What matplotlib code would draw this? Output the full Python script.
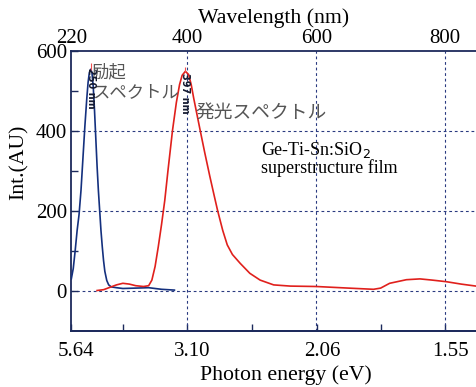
import numpy as np
import matplotlib.pyplot as plt
from matplotlib.transforms import ScaledTranslation

plt.rcParams['font.family'] = ['Liberation Serif', 'DejaVu Serif']

# Excitation spectrum (blue), wavelength [nm] vs intensity [AU]
ex_nm = [220, 223, 226, 229, 232, 235, 238, 241, 244, 246, 248, 250, 252, 254,
         256, 258, 260, 262, 264, 266, 268, 270, 272, 275, 278, 282, 290, 300,
         320, 340, 360, 380]
ex_int = [29, 55, 100, 150, 190, 250, 330, 410, 480, 520, 545, 553, 545, 510,
          450, 380, 310, 250, 200, 150, 110, 75, 48, 25, 14, 9, 7, 5,
          6, 7, 3, 1]

# Emission spectrum (red)
em_nm = [260, 270, 280, 290, 300, 310, 320, 332, 340, 345, 350, 355, 360, 365,
         370, 377, 383, 388, 392, 397, 402, 406, 410, 415, 420, 427, 435, 442,
         447, 455, 462, 470, 482, 497, 513, 534, 560, 600, 650, 689, 700, 714,
         740, 761, 780, 802, 825, 848]
em_int = [0, 2, 8, 14, 18, 16, 12, 10, 12, 26, 60, 110, 165, 225,
          300, 400, 470, 515, 538, 548, 540, 515, 480, 440, 400, 345, 285, 235,
          200, 150, 114, 90, 68, 43, 26, 14, 11, 10, 6, 3, 6, 18,
          27, 29, 26, 22, 16, 11]

peak_nm = [250, 397]
peak_top = [568, 560]
peak_bottom = [551, 546]
peak_labels = ['250 nm', '397 nm']

nm_ticks = [220, 400, 600, 800]
ev_ticks = [5.64, 3.10, 2.06, 1.55]
int_ticks = [0, 200, 400, 600]

navy = '#1c2a5c'

fig = plt.figure(figsize=(4.76, 3.87), dpi=100)
ax = fig.add_axes([71 / 476, 1 - 330.5 / 387, 1 - 71 / 476, 280 / 387])

ax.plot(ex_nm, ex_int, color='#14307e', lw=1.2, zorder=3)
ax.plot(em_nm, em_int, color='#e0201c', lw=1.2, zorder=3)
ax.vlines(peak_nm, peak_bottom, peak_top, color='#f05050', lw=0.8, zorder=4)

for p, lab, yy in zip(peak_nm, peak_labels, [506, 494]):
    ax.text(p, yy, lab, rotation=270, ha='center', va='center', fontsize=7,
            fontweight='bold', family='DejaVu Sans', color='#151a30', zorder=5)

# grid
for gy in [0, 200, 400]:
    ax.axhline(gy, color='#2a3a80', lw=0.8, ls=(0, (2.5, 2.5)), zorder=1)
for gx in [400, 600, 800]:
    ax.axvline(gx, color='#2a3a80', lw=0.8, ls=(0, (2.5, 2.5)), zorder=1)

ax.set_xlim(219.5, 848)
ax.set_ylim(-100, 600)

# wavelength on top
ax.xaxis.tick_top()
ax.set_xticks(nm_ticks)
ax.set_xticks([300, 500, 700], minor=True)
ax.tick_params(axis='x', which='both', length=0, labelsize=15, pad=2)
ax.set_xlabel('Wavelength (nm)', fontsize=15.7, labelpad=4)
ax.xaxis.set_label_position('top')

# photon energy at bottom
sec = ax.secondary_xaxis('bottom', functions=(lambda x: 1239.8 / x, lambda e: 1239.8 / e))
sec.set_ticks(ev_ticks)
sec.set_xticklabels(['%.2f' % e for e in ev_ticks])
sec.set_xticks([1239.8 / 300, 1239.8 / 500, 1239.8 / 700], minor=True)
sec.tick_params(axis='x', which='both', direction='in', length=5, width=1,
                color=navy, labelsize=15, pad=8)
sec.set_xlabel('Photon energy (eV)', fontsize=15.7, labelpad=3)
sec.xaxis.label.set_x(0.53)
sec.spines['bottom'].set_color(navy)
sec.spines['bottom'].set_linewidth(1.3)
shift = ScaledTranslation(5 / 100, 0, fig.dpi_scale_trans)
for t in sec.get_xticklabels():
    t.set_transform(t.get_transform() + shift)

ax.set_yticks(int_ticks)
ax.set_yticks([100, 300, 500], minor=True)
ax.tick_params(axis='y', which='both', direction='in', length=5, width=1,
               color=navy, labelsize=15, pad=3)
ax.set_ylabel('Int.(AU)', fontsize=15.7)
ax.yaxis.set_label_coords(-0.105, 0.6)

for s in ['left', 'top', 'bottom']:
    ax.spines[s].set_color(navy)
    ax.spines[s].set_linewidth(1.3)
ax.spines['right'].set_visible(False)

jp = ['Noto Sans CJK JP', 'DejaVu Sans']
ax.text(251, 545, '励起', family=jp, fontsize=12.5, color='#555555', va='center')
ax.text(253, 497, 'スペクトル', family=jp, fontsize=12.5, color='#555555', va='center')
ax.text(413, 445, '発光スペクトル', family=jp, fontsize=13.5, color='#555555', va='center')

ax.text(515, 339, 'Ge-Ti-Sn:SiO$_2$', fontsize=13, color='black', va='baseline')
ax.text(515, 294, 'superstructure film', fontsize=13, color='black', va='baseline')

plt.savefig('out.png', dpi=100)
